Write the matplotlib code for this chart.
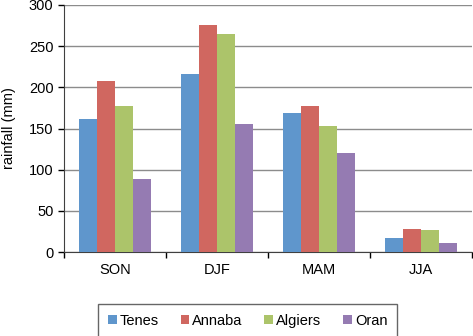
import numpy as np
import matplotlib.pyplot as plt

seasons = ["SON", "DJF", "MAM", "JJA"]
stations = ["Tenes", "Annaba", "Algiers", "Oran"]
tenes = [161, 216, 169, 17]
annaba = [208, 276, 177, 28]
algiers = [177, 265, 153, 27]
oran = [89, 155, 120, 11]
colors = ["#5f96cc", "#d06760", "#acc46a", "#957bb2"]

plt.rcParams['font.family'] = ['Liberation Sans', 'DejaVu Sans']

fig = plt.figure(figsize=(4.73, 3.36), dpi=100)
ax = fig.add_axes([64/473, 1 - 252/336, (472-64)/473, 247/336])

x = np.arange(len(seasons))
w = 0.177
for i, (vals, name) in enumerate(zip([tenes, annaba, algiers, oran], stations)):
    ax.bar(x + (i - 1.5) * w, vals, w, color=colors[i], label=name, zorder=3)

ax.set_xlim(-0.5, 3.5)
ax.set_ylim(0, 300)
ax.set_yticks(range(0, 301, 50))
ax.yaxis.grid(True, color="#8c8c8c", linewidth=1, zorder=0)
ax.set_xticks(np.arange(-0.5, 4, 1))
ax.set_xticklabels([])
ax.set_xticks(x, minor=True)
ax.set_xticklabels(seasons, minor=True)
ax.tick_params(axis="x", which="minor", length=0, pad=8, labelsize=10.5)
ax.tick_params(axis="x", which="major", length=4, width=1)
ax.tick_params(axis="y", length=4, width=1, labelsize=10.5)
for s in ["top", "right"]:
    ax.spines[s].set_visible(False)
ax.spines["left"].set_color("#404040")
ax.spines["bottom"].set_color("#404040")
ax.set_ylabel("rainfall (mm)", fontsize=10.5, labelpad=9)

leg = ax.legend(loc="upper center", bbox_to_anchor=(0.45, -0.182), ncol=4,
                frameon=True, fancybox=False, fontsize=10.5,
                handlelength=0.6, handleheight=0.6, handletextpad=0.2,
                columnspacing=1.5, borderpad=0.65)
leg.get_frame().set_edgecolor("#404040")
leg.get_frame().set_linewidth(1)

fig.savefig("out.png", dpi=100)
